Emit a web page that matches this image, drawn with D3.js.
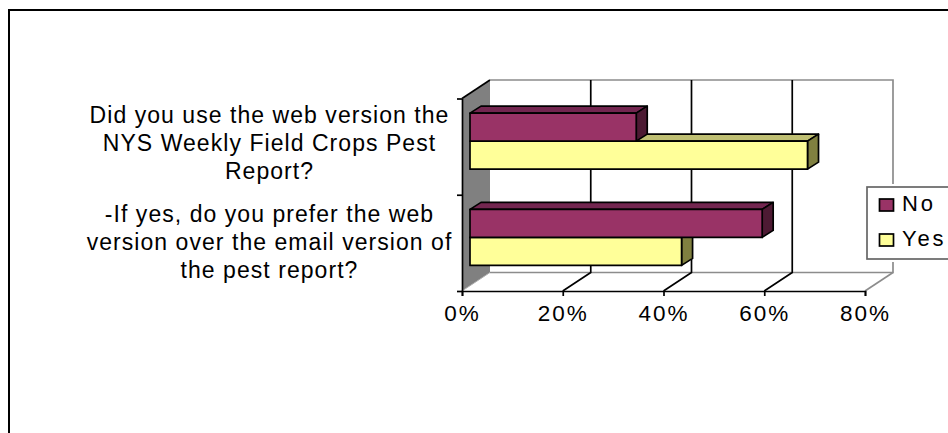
<!DOCTYPE html>
<html>
<head>
<meta charset="utf-8">
<script src="https://cdn.jsdelivr.net/npm/d3@7"></script>
<style>
    html, body { margin: 0; padding: 0; background: #fff; overflow: hidden; }
    text { font-family: "Liberation Sans", Arial, sans-serif; fill: #000; }
</style>
</head>
<body>
<div id="chart"></div>
<script>
"use strict";

var categories = ["web", "prefer"];
var categoryLines = [
    ["Did you use the web version the", "NYS Weekly Field Crops Pest", "Report?"],
    ["-If yes, do you prefer the web", "version over the email version of", "the pest report?"]
];
var seriesNames = ["No", "Yes"];
var noValues = [33, 58];
var yesValues = [67, 42];
var xTicks = [0, 20, 40, 60, 80];

var width = 948, height = 433;
var depthX = 28, depthY = -18.5;      // offset of the back wall
var barDepthX = 11, barDepthY = -7;   // depth of the bars
var barInset = 8, barHeight = 28;
var lineW = 1.7;

var svg = d3.select("#chart").append("svg")
    .attr("width", width)
    .attr("height", height);

// page frame, only top and left show
svg.append("path")
    .attr("d", "M9,433V10H948")
    .attr("fill", "none")
    .attr("stroke", "#000")
    .attr("stroke-width", 2);

var x = d3.scaleLinear().domain([0, 80]).range([462, 865]);
var y = d3.scaleBand().domain(categories).range([98.5, 291]);
// middle line of each wrapped label
var labelY = d3.scalePoint().domain(categories).range([151, 249.5]);

var x0 = x(0), x1 = x(80), yTop = y.range()[0], yBot = y.range()[1];

// left wall
svg.append("path")
    .attr("d", "M" + x0 + "," + yTop + "L" + (x0 + depthX) + "," + (yTop + depthY) +
        "V" + (yBot + depthY) + "L" + x0 + "," + yBot + "Z")
    .attr("fill", "#808080");
svg.append("line")
    .attr("x1", x0).attr("y1", yTop)
    .attr("x2", x0 + depthX).attr("y2", yTop + depthY)
    .attr("stroke", "#000").attr("stroke-width", lineW);

// back wall outline
svg.append("path")
    .attr("d", "M" + (x0 + depthX) + "," + (yTop + depthY) + "H" + (x1 + depthX) +
        "V" + (yBot + depthY) + "H" + (x0 + depthX))
    .attr("fill", "none")
    .attr("stroke", "#8c8c8c")
    .attr("stroke-width", lineW);

// floor edges
svg.append("line")
    .attr("x1", x1).attr("y1", yBot)
    .attr("x2", x1 + depthX).attr("y2", yBot + depthY)
    .attr("stroke", "#8c8c8c").attr("stroke-width", lineW);
svg.append("line")
    .attr("x1", x0).attr("y1", yBot)
    .attr("x2", x0 + depthX).attr("y2", yBot + depthY)
    .attr("stroke", "#b0b0b0").attr("stroke-width", 1);

// gridlines on back wall and floor
var inner = xTicks.slice(1, -1);
svg.selectAll(".grid").data(inner).enter().append("path")
    .attr("class", "grid")
    .attr("d", function (d) {
        return "M" + x(d) + "," + yBot + "L" + (x(d) + depthX) + "," + (yBot + depthY) +
            "V" + (yTop + depthY);
    })
    .attr("fill", "none")
    .attr("stroke", "#000")
    .attr("stroke-width", lineW);

// axes
var xAxis = d3.axisBottom(x).tickValues(xTicks).tickSize(5).tickPadding(9)
    .tickFormat(function (d) { return d + "%"; });
var gx = svg.append("g").attr("transform", "translate(0," + yBot + ")").call(xAxis);
gx.select(".domain").attr("stroke", "#000").attr("stroke-width", lineW);
gx.selectAll(".tick line").attr("stroke", "#000").attr("stroke-width", lineW);
gx.selectAll(".tick text")
    .style("font-family", '"Liberation Sans", Arial, sans-serif')
    .style("font-size", "22.5px")
    .style("letter-spacing", "2px")
    .attr("fill", "#000");

var yAxis = d3.axisLeft(d3.scalePoint().domain([0, 1, 2]).range([yTop, yBot]))
    .tickSize(5).tickSizeOuter(0).tickFormat("");
var gy = svg.append("g").attr("transform", "translate(" + x0 + ",0)").call(yAxis);
gy.select(".domain").attr("stroke", "#000").attr("stroke-width", lineW);
gy.selectAll(".tick line").attr("stroke", "#000").attr("stroke-width", lineW);

// bars, yes first so the no bar sits over it
var faces = {
    No: { front: "#993366", top: "#732650", side: "#4d1a33" },
    Yes: { front: "#ffff99", top: "#bfbf73", side: "#808040" }
};

function drawBar(g, v, top, c) {
    var left = x0 + barInset, right = x(v) + barInset;
    var bottom = top + barHeight;
    g.append("path")
        .attr("d", "M" + left + "," + top + "l" + barDepthX + "," + barDepthY +
            "H" + (right + barDepthX) + "l" + (-barDepthX) + "," + (-barDepthY) + "Z")
        .attr("fill", c.top);
    g.append("path")
        .attr("d", "M" + right + "," + top + "l" + barDepthX + "," + barDepthY +
            "v" + barHeight + "l" + (-barDepthX) + "," + (-barDepthY) + "Z")
        .attr("fill", c.side);
    g.append("rect")
        .attr("x", left).attr("y", top)
        .attr("width", right - left).attr("height", bottom - top)
        .attr("fill", c.front);
    g.selectAll("path,rect")
        .attr("stroke", "#000")
        .attr("stroke-width", lineW)
        .attr("stroke-linejoin", "round");
}

categories.forEach(function (cat, i) {
    var mid = y(cat) + y.bandwidth() / 2 - 5.5;
    var g = svg.append("g");
    drawBar(g, yesValues[i], mid, faces.Yes);
    drawBar(g, noValues[i], mid - barHeight, faces.No);
});

// category labels
categories.forEach(function (cat, i) {
    var t = svg.append("text")
        .attr("text-anchor", "middle")
        .style("font-size", "23px")
        .style("letter-spacing", "1.05px");
    t.selectAll("tspan").data(categoryLines[i]).enter().append("tspan")
        .attr("x", 269.5)
        .attr("y", function (d, j) { return labelY(cat) + (j - 1) * 28; })
        .text(function (d) { return d; });
});

// legend
var legendX = 867, legendY = 187;
svg.append("rect")
    .attr("x", legendX).attr("y", legendY)
    .attr("width", 100).attr("height", 72)
    .attr("fill", "#fff")
    .attr("stroke", "#fff")
    .attr("stroke-width", 6);
svg.append("rect")
    .attr("x", legendX).attr("y", legendY)
    .attr("width", 100).attr("height", 72)
    .attr("fill", "#fff")
    .attr("stroke", "#666")
    .attr("stroke-width", lineW);

seriesNames.forEach(function (name, i) {
    var rowY = legendY + 12 + i * 35;
    svg.append("rect")
        .attr("x", legendX + 12.5).attr("y", rowY)
        .attr("width", 14).attr("height", 12)
        .attr("fill", faces[name].front)
        .attr("stroke", "#000")
        .attr("stroke-width", lineW);
    svg.append("text")
        .attr("x", legendX + 35).attr("y", rowY + 12)
        .style("font-size", "22px")
        .style("letter-spacing", "2.8px")
        .text(name);
});
</script>
</body>
</html>
